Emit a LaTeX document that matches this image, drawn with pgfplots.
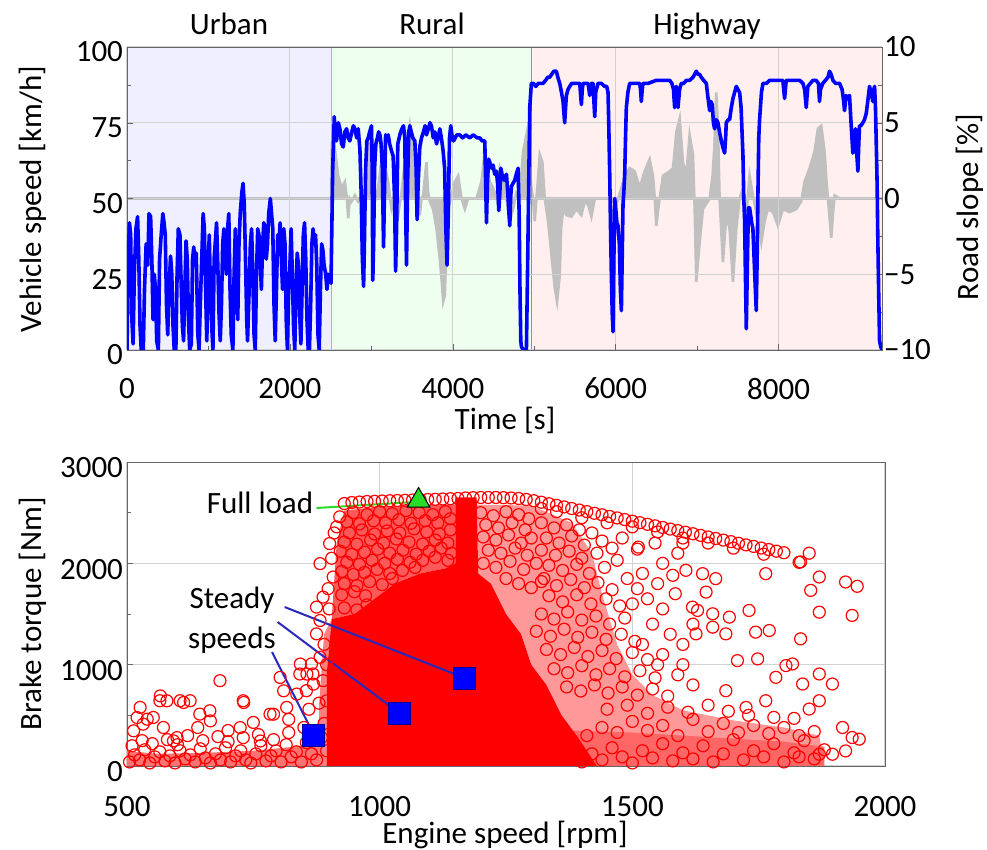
\documentclass[border=0pt]{standalone}
\usepackage{fontspec}
\setmainfont{Carlito}
\usepackage{pgfplots}
\pgfplotsset{compat=1.18}
\definecolor{urb}{RGB}{239,239,255}
\definecolor{rur}{RGB}{239,255,239}
\definecolor{hwy}{RGB}{255,240,239}
\definecolor{slopec}{RGB}{192,192,192}
\definecolor{leader}{RGB}{40,40,190}
\definecolor{flgreen}{RGB}{40,220,40}
\begin{document}
\begin{tikzpicture}[font=\fontsize{15.5}{18}\selectfont]
\useasboundingbox (-63.5pt,-250pt) rectangle (430pt,175pt);
\pgfplotsset{
  base/.style={scale only axis, font=\fontsize{15.5}{18}\selectfont,
    /pgf/number format/assume math mode=true, /pgf/number format/1000 sep={},
    axis line style={black!60}, tick style={black!60}, tick align=inside,
    major tick length=3pt, minor tick length=1.8pt,
    grid style={black!18, line width=0.5pt},
    xticklabel style={yshift=-10.5pt}},
}
% ---------- top: road slope (right axis), backgrounds ----------
\begin{axis}[base, at={(0,0)}, anchor=south west, width=377.5pt, height=151.5pt,
  xmin=0, xmax=9270, ymin=-10, ymax=10, axis on top,
  xtick={0,2000,4000,6000,8000}, minor x tick num=1, xtick pos=bottom,
  ytick={-10,-5,0,5,10}, yticklabels={−10,−5,0,5,10}, minor y tick num=1,
  ytick pos=right, yticklabel pos=right, yticklabel style={xshift=-2.5pt},
  grid=major]
\addplot[draw=none, fill=urb] coordinates {(0,-10) (0,10) (2515,10) (2515,-10)};
\addplot[draw=none, fill=rur] coordinates {(2515,-10) (2515,10) (4969,10) (4969,-10)};
\addplot[draw=none, fill=hwy] coordinates {(4969,-10) (4969,10) (9270,10) (9270,-10)};
\addplot[draw=slopec, fill=slopec, line width=1.3pt] coordinates {
(0,0) (2510,0) (2515,3.7) (2532,3.1) (2552,3.3) (2593,1.5) (2634,0.7) (2675,1.1) (2700,0) (2716,-1.3)
(2735,0) (2757,-0.2) (2798,0.2) (2839,-0.2) (2880,0) (2920,-0.2) (2949,0.9) (2974,3.7) (2990,2) (3002,1.1)
(3043,-0.2) (3084,0.7) (3125,2.6) (3166,2.2) (3207,1.1) (3230,0) (3248,-0.7) (3289,0) (3329,-1.1) (3370,0.4)
(3411,2.4) (3440,3.5) (3473,4.8) (3490,4) (3514,3.1) (3554,1.5) (3575,0) (3595,-1.1) (3615,0) (3636,0.2)
(3660,1.5) (3677,2.4) (3695,0.5) (3718,-0.2) (3759,-0.7) (3800,-2) (3841,-4) (3865,-5.5) (3882,-6.8) (3902,-6.4)
(3923,-2.9) (3945,-1) (3963,-0.2) (4025,1.1) (4066,1.5) (4107,0) (4148,-0.7) (4188,0) (4291,0) (4352,1.1)
(4380,2.5) (4393,3.5) (4414,2.2) (4454,1.1) (4495,0.7) (4536,0) (4560,1.2) (4577,2) (4618,1.3) (4659,0)
(4680,-0.8) (4700,-1.5) (4741,-0.7) (4781,0.4) (4822,0.2) (4845,1.8) (4863,3.1) (4904,4.2) (4925,2.4) (4945,2)
(4965,0.7) (4985,0) (5006,-1.5) (5027,0) (5050,1.5) (5068,2.9) (5100,2.4) (5129,0) (5170,-1.5) (5211,-3.7)
(5252,-5.9) (5280,-6.8) (5313,-5.1) (5330,-2) (5354,-0.7) (5395,-1.1) (5456,-1.2) (5518,-0.7) (5579,-1.1) (5620,-0.2)
(5661,-0.4) (5702,-1.2) (5743,0) (5927,0) (6008,-0.4) (6070,0.7) (6111,1.5) (6172,2) (6233,1.8) (6295,0.7)
(6356,1.8) (6417,2.6) (6458,1.5) (6480,0) (6499,-1.8) (6520,-0.8) (6540,0) (6581,1.5) (6663,1.8) (6704,2)
(6730,3.5) (6745,4.4) (6786,5.3) (6826,2.4) (6867,1.5) (6908,4.2) (6949,2.9) (6970,-0.7) (6990,-5.5) (7031,-2.9)
(7072,-0.7) (7154,0) (7190,1.5) (7215,3.7) (7235,7) (7256,4.8) (7276,0) (7300,-2.5) (7317,-4.2) (7358,-1.1)
(7399,-2) (7440,-5.5) (7481,-2) (7522,0) (7563,0.7) (7604,-1.1) (7644,1.5) (7685,0.2) (7726,-0.9) (7788,-2.9)
(7829,-1.5) (7869,-0.7) (7931,-0.9) (7992,-1.8) (8053,-0.7) (8135,-0.9) (8217,-0.7) (8278,-0.2) (8319,1.1) (8381,2)
(8442,3.1) (8483,4.6) (8524,4.8) (8565,3.1) (8590,1) (8606,0) (8625,-1.2) (8647,-2.6) (8668,-1) (8688,0.2)
(8749,0) (9270,0)} \closedcycle;
\addplot[draw={rgb,255:red,120;green,220;blue,120}, line width=0.6pt] coordinates {(2515,-10) (2515,10)};
\addplot[draw={rgb,255:red,230;green,110;blue,110}, line width=0.6pt] coordinates {(4969,-10) (4969,10)};
\end{axis}
% ---------- top: vehicle speed (left axis) ----------
\begin{axis}[base, at={(0,0)}, anchor=south west, width=377.5pt, height=151.5pt,
  xmin=0, xmax=9270, ymin=0, ymax=100, hide x axis, axis y line*=left,
  ytick={0,25,50,75,100}, minor y tick num=1, yticklabel style={xshift=1.5pt, yshift=-2.5pt}]
\addplot[blue, line width=1.8pt, line join=round] coordinates {
(0,0) (15,30) (30,42) (45,38) (60,10) (75,2) (90,25) (110,40) (130,44) (145,30)
(160,8) (175,0) (200,0) (215,20) (235,35) (255,28) (270,45) (290,44) (305,30) (320,10)
(335,25) (350,20) (365,3) (385,0) (400,30) (420,38) (440,45) (455,42) (470,38) (485,15)
(500,5) (515,20) (535,31) (550,25) (565,8) (580,0) (600,0) (615,25) (630,40) (650,38)
(665,22) (680,8) (695,3) (710,20) (725,36) (740,30) (755,10) (770,0) (790,2) (805,30)
(820,34) (835,28) (850,32) (870,5) (885,0) (900,15) (920,32) (935,45) (950,40) (965,20)
(980,3) (995,25) (1010,38) (1025,20) (1040,8) (1055,0) (1070,30) (1085,36) (1100,42) (1115,28)
(1130,12) (1145,3) (1160,15) (1175,35) (1190,40) (1205,30) (1220,25) (1235,40) (1250,45) (1265,20)
(1280,5) (1300,0) (1315,25) (1330,40) (1345,20) (1360,10) (1375,35) (1390,45) (1410,52) (1425,55)
(1440,48) (1455,30) (1470,10) (1480,3) (1500,20) (1515,35) (1530,40) (1545,25) (1560,5) (1575,0)
(1590,25) (1605,40) (1620,38) (1635,30) (1650,20) (1665,35) (1680,42) (1695,40) (1710,30) (1725,35)
(1740,45) (1760,50) (1775,45) (1790,40) (1805,15) (1820,3) (1835,20) (1850,38) (1865,35) (1880,42)
(1895,30) (1910,20) (1925,40) (1940,35) (1955,10) (1970,0) (1985,20) (2000,28) (2015,40) (2030,25)
(2045,8) (2060,0) (2075,20) (2090,32) (2105,28) (2120,12) (2135,2) (2150,20) (2165,38) (2180,42)
(2195,30) (2210,10) (2225,0) (2240,0) (2255,15) (2270,35) (2285,40) (2300,35) (2315,38) (2330,28)
(2345,5) (2360,0) (2375,20) (2390,35) (2405,33) (2420,28) (2440,25) (2455,20) (2470,25) (2490,24)
(2505,22) (2515,40) (2525,59) (2545,77) (2555,72) (2573,69) (2595,75) (2614,73) (2635,68) (2655,67)
(2675,72) (2696,73) (2716,70) (2736,69) (2760,72) (2780,74) (2798,73) (2820,70) (2839,73) (2860,66)
(2875,52) (2890,30) (2905,21) (2915,35) (2930,60) (2945,69) (2961,70) (2980,72) (3002,74) (3010,60)
(3018,23) (3028,35) (3040,60) (3055,68) (3075,70) (3090,72) (3105,71) (3120,68) (3135,60) (3150,34)
(3160,50) (3175,71) (3190,70) (3207,71) (3225,68) (3245,66) (3268,64) (3285,50) (3298,26) (3310,40)
(3325,68) (3350,71) (3375,73) (3395,74) (3411,70) (3422,45) (3432,28) (3445,55) (3460,72) (3473,74)
(3490,72) (3510,70) (3534,69) (3550,60) (3562,43) (3575,55) (3595,67) (3616,70) (3640,72) (3660,74)
(3677,71) (3700,73) (3720,75) (3738,74) (3760,70) (3780,72) (3800,68) (3820,70) (3841,73) (3860,70)
(3880,66) (3900,60) (3915,40) (3930,28) (3945,45) (3960,70) (3975,74) (3990,71) (4010,69) (4030,70)
(4050,71) (4086,71) (4120,70) (4160,71) (4209,70) (4250,71) (4300,70) (4332,70) (4360,69) (4393,69)
(4404,55) (4414,42) (4425,55) (4440,63) (4454,62) (4475,60) (4495,61) (4515,58) (4536,59) (4550,55)
(4565,46) (4578,52) (4590,60) (4605,58) (4630,56) (4659,58) (4675,52) (4690,45) (4700,41) (4710,50)
(4720,54) (4740,55) (4761,56) (4780,58) (4802,60) (4815,45) (4825,20) (4835,3) (4843,1) (4870,0)
(4904,0) (4920,30) (4935,60) (4945,80) (4965,88) (4990,88) (5020,87) (5050,88) (5080,88) (5109,88)
(5140,89) (5165,90) (5190,90) (5215,91) (5240,92) (5272,92) (5290,90) (5313,88) (5335,85) (5354,82)
(5365,78) (5374,75) (5385,80) (5395,84) (5415,86) (5436,87) (5460,88) (5477,88) (5520,88) (5559,88)
(5570,84) (5579,81) (5590,86) (5599,88) (5630,88) (5661,88) (5672,86) (5681,84) (5700,88) (5722,88)
(5733,82) (5743,77) (5755,85) (5783,88) (5824,88) (5865,87) (5890,87) (5906,85) (5915,75) (5927,58)
(5937,40) (5947,25) (5958,12) (5968,6) (5978,30) (5988,50) (6000,47) (6015,42) (6029,41) (6045,35)
(6058,20) (6070,13) (6080,30) (6090,48) (6100,52) (6111,58) (6121,70) (6131,80) (6150,85) (6172,88)
(6230,88) (6295,88) (6305,86) (6315,82) (6326,86) (6336,88) (6400,88) (6499,89) (6540,89) (6581,89)
(6620,89) (6663,89) (6690,88) (6710,86) (6724,80) (6735,86) (6745,87) (6755,84) (6765,80) (6785,86)
(6806,88) (6835,88) (6867,89) (6910,89) (6949,90) (6970,91) (6990,92) (7010,91) (7030,91) (7051,90)
(7080,89) (7113,88) (7130,84) (7154,79) (7170,82) (7186,81) (7200,75) (7215,73) (7235,76) (7256,75)
(7275,72) (7297,69) (7315,67) (7338,65) (7350,70) (7358,75) (7380,76) (7399,76) (7420,80) (7440,83)
(7460,85) (7481,87) (7500,86) (7522,85) (7540,80) (7563,64) (7573,50) (7583,43) (7593,25) (7604,7)
(7615,25) (7630,47) (7644,47) (7660,44) (7670,42) (7685,40) (7700,30) (7715,20) (7726,13) (7737,30)
(7747,52) (7757,70) (7767,76) (7790,85) (7808,88) (7850,88) (7890,89) (7950,89) (8000,89) (8053,89)
(8063,86) (8074,83) (8084,86) (8094,89) (8150,89) (8217,89) (8260,89) (8299,88) (8320,86) (8340,80)
(8350,84) (8360,87) (8390,88) (8422,89) (8460,89) (8490,88) (8503,82) (8515,86) (8544,88) (8575,89)
(8606,90) (8626,92) (8645,91) (8667,89) (8700,88) (8749,88) (8780,86) (8800,82) (8810,79) (8830,84)
(8850,83) (8871,84) (8890,75) (8912,65) (8930,70) (8945,73) (8960,65) (8974,59) (8985,68) (8994,74)
(9010,74) (9035,75) (9055,76) (9076,78) (9095,82) (9117,87) (9135,85) (9158,82) (9170,86) (9179,87)
(9190,80) (9199,69) (9210,55) (9219,36) (9230,18) (9240,3) (9255,1) (9270,0)};
\end{axis}
% ---------- bottom: engine operating points ----------
\begin{axis}[base, at={(0,-208pt)}, anchor=south west, width=379pt, height=152pt,
  xmin=500, xmax=2000, ymin=0, ymax=3000,
  xtick={500,1000,1500,2000}, ytick={0,1000,2000,3000}, minor x tick num=1, minor y tick num=1,
  xtick pos=bottom, ytick pos=left, grid=major, xticklabel style={yshift=-1pt},
  yticklabel style={xshift=1.5pt, yshift=-3pt}]
% density zones
\addplot[draw=none, fill=red!40] coordinates {(1192,2580) (1300,2570) (1380,2400) (1420,2100) (1440,1700) (1470,1200) (1500,900) (1540,700) (1600,550) (1700,450) (1800,380) (1870,300) (1880,0) (1430,0) (1410,150) (1390,300) (1360,500) (1330,800) (1300,1000) (1280,1300) (1250,1500) (1220,1800) (1195,1900)};
\addplot[draw=none, fill=red!60] coordinates {(1380,0) (1380,350) (1500,330) (1600,300) (1700,270) (1800,240) (1880,190) (1880,0)};
\addplot[draw=none, fill=red!65] coordinates {(905,1450) (915,2200) (930,2520) (1000,2560) (1150,2580) (1150,2000) (1130,1950) (1080,1900) (1030,1800) (990,1650) (950,1500)};
\addplot[draw=none, fill=red!50] coordinates {(880,0) (880,600) (890,1300) (905,1450) (895,900) (895,0)};
\addplot[draw=none, fill=red!55] coordinates {(500,0) (500,150) (560,120) (650,130) (750,150) (850,200) (880,260) (880,0)};
% solid core
\addplot[draw=none, fill=red] coordinates {(895,0) (895,900) (905,1450) (950,1500) (990,1650) (1030,1800) (1080,1900) (1130,1950) (1150,2000) (1150,2650) (1192,2650) (1195,1900) (1220,1800) (1250,1500) (1280,1300) (1300,1000) (1330,800) (1360,500) (1390,300) (1410,150) (1430,0)};
% operating points
\addplot[only marks, mark=o, mark size=3pt, red, mark options={line width=0.6pt}] coordinates {
(505,40)(515,110)(525,60)(535,160)(545,30)(555,90)(565,140)(575,50)(585,100)(595,30)(605,150)(615,70)(625,110)(635,40)(645,170)(655,80)(665,30)(675,120)(685,60)(695,180)(705,40)(715,100)(725,150)(735,60)(745,30)(755,120)(765,200)(775,50)(785,100)(795,150)(805,40)(815,210)(825,90)(835,140)(845,40)(855,230)(865,120)(875,60)(885,280)(895,150)
(510,200)(530,250)(550,220)(580,260)(600,210)(620,300)(650,250)(680,290)(700,240)(730,280)(760,310)(790,260)(820,330)(850,380)(870,350)(890,420)
(513,347)(526,578)(532,413)(552,479)(565,644)(572,380)(592,248)(605,644)(625,644)(644,512)(664,545)(684,842)(730,644)(724,379)(783,512)(816,578)(836,710)(855,743)(842,908)(865,1007)(882,1073)(875,1304)(882,1436)(875,1568)(888,1667)(882,1997)(901,2195)(908,1865)(915,2360)(921,2459)(868,908)(888,842)(520,478)(540,462)(599,280)(764,247)(790,511)(803,874)(810,742)(843,1006)(856,907)(869,808)(895,643)(612,627)(731,627)(665,445)(566,692)(579,643)(750,430)(700,350)(640,380)(820,460)(860,560)(880,620)(890,1200)(895,1000)(898,1750)(905,2050)(910,2300)(900,1550)
(930,1560)(955,1540)(975,1590)(925,1690)(950,1720)(972,1680)(930,1800)(955,1780)(980,1820)(1005,1790)(1025,1850)
(925,1920)(948,1890)(970,1910)(995,1940)(1020,1900)(1045,1930)(1070,1960)
(935,2010)(960,1990)(985,2030)(1010,2000)(1035,2040)(1060,2010)(1085,2030)(1110,2060)(1135,2030)
(922,2120)(945,2090)(970,2110)(996,2140)(1020,2100)(1046,2130)(1072,2090)(1098,2120)(1122,2150)(1142,2100)
(930,2210)(955,2190)(982,2230)(1008,2200)(1033,2240)(1058,2210)(1085,2190)(1110,2230)(1135,2200)
(940,2300)(965,2330)(990,2290)(1015,2320)(1040,2300)(1068,2340)(1093,2310)(1118,2290)(1140,2330)
(935,2410)(960,2390)(988,2420)(1012,2400)(1038,2430)(1062,2395)(1090,2420)(1115,2400)(1140,2440)
(948,2500)(975,2480)(1000,2510)(1025,2490)(1052,2520)(1078,2500)(1105,2480)(1130,2510)
(1200,2500)(1225,2470)(1250,2510)(1275,2480)(1295,2440)(1210,2380)(1235,2350)(1262,2400)(1288,2330)(1205,2260)(1230,2230)(1255,2280)(1280,2200)(1300,2250)(1215,2130)(1240,2100)(1268,2150)(1292,2080)(1205,2000)(1230,1960)(1258,2020)(1285,1940)(1310,2000)(1250,1850)(1275,1800)(1300,1760)(1325,1850)
(1320,2400)(1345,2350)(1370,2380)(1395,2330)(1420,2300)(1330,2250)(1355,2200)(1380,2270)(1405,2180)(1440,2220)(1320,2130)(1348,2080)(1375,2120)(1400,2050)(1430,2100)(1460,2150)(1335,1980)(1362,1930)(1390,1990)(1415,1900)(1445,1960)(1470,2030)(1320,1820)(1350,1780)(1378,1840)(1405,1760)(1432,1810)(1460,1740)(1490,1850)(1335,1680)(1362,1620)(1390,1690)(1418,1600)(1448,1650)(1475,1580)(1320,1500)(1345,1450)(1372,1520)(1400,1440)(1428,1480)(1455,1400)(1485,1460)(1310,1330)(1338,1280)(1365,1350)(1392,1270)(1420,1320)(1448,1250)(1478,1300)(1505,1230)(1330,1150)(1358,1100)(1385,1170)(1412,1080)(1440,1140)(1468,1060)(1500,1120)(1530,1050)(1345,960)(1372,920)(1400,990)(1428,900)(1455,960)(1485,880)(1515,940)(1545,870)(1370,780)(1398,740)(1425,800)(1452,720)(1480,780)(1510,700)(1540,760)(1570,690)
(1400,40)(1420,120)(1440,60)(1460,180)(1480,90)(1500,30)(1520,150)(1540,80)(1560,220)(1580,50)(1600,130)(1620,70)(1640,200)(1660,40)(1680,120)(1700,260)(1720,60)(1740,150)(1760,90)(1780,220)(1800,40)(1820,130)(1840,250)(1860,70)(1880,160)(1410,300)(1440,380)(1470,330)(1500,440)(1530,350)(1560,400)(1590,300)(1620,460)(1650,340)(1680,420)(1710,330)(1740,400)(1770,320)(1800,380)(1830,300)(1860,340)(1450,560)(1490,600)(1530,520)(1570,580)(1610,530)(1650,600)(1690,540)(1730,500)(1780,480)(1820,470)
(1606,1931)(1580,1882)(1639,1898)(1665,1849)(1629,1535)(1659,1502)(1692,1469)(1731,1535)(1744,1321)(1771,1337)(1685,1304)(1659,1370)(1626,1304)(1708,1040)(1748,1057)(1784,875)(1804,991)(1817,1007)(1685,743)(1725,578)(1764,644)(1837,809)(1870,908)(1896,809)(1850,562)(1870,644)(1916,380)(1935,281)(1949,265)(1922,149)(1896,116)(1870,116)(1830,90)(1764,1898)(1833,2014)(1853,1733)(1870,1518)(1935,1486)(1922,1816)(1945,1773)(1833,1255)(1870,1865)(1619,1568)(1646,1716)(1510,2140)(1512,2160)
(1520,1900)(1550,1800)(1530,1650)(1560,1550)(1585,1700)(1540,1400)(1575,1300)(1520,1200)(1560,1100)(1600,1000)(1590,900)(1620,800)(1550,1000)(1600,1200)(1620,1400)(1500,1600)(1510,1750)(1560,2000)(1590,2100)(1545,2200)(1480,2250)(1600,2200)
(930,2590)(945,2600)(960,2605)(975,2610)(990,2612)(1005,2615)(1020,2618)(1035,2620)(1050,2622)(1065,2625)(1080,2628)(1095,2630)(1110,2632)(1125,2635)(1140,2638)(1155,2640)(1170,2645)(1185,2648)(1200,2650)(1215,2650)(1230,2650)(1245,2648)(1260,2645)(1275,2640)(1290,2630)(1305,2618)(1320,2603)(1335,2588)(1350,2572)(1365,2557)(1380,2541)(1395,2526)(1410,2510)(1425,2494)(1440,2479)(1455,2463)(1470,2448)(1485,2432)(1500,2416)(1515,2401)(1530,2385)(1545,2370)(1560,2354)(1575,2338)(1590,2323)(1605,2307)(1620,2292)(1635,2276)(1650,2260)(1665,2245)(1680,2229)(1695,2214)(1710,2198)(1725,2182)(1740,2167)(1755,2151)(1770,2136)(1785,2120)(1800,2105)
(1320,2540)(1350,2510)(1400,2450)(1450,2400)(1500,2360)(1550,2310)(1600,2250)(1650,2200)(1700,2150)(1760,2090)(1830,2010)(1850,2100)};
% annotations
\addplot[flgreen, line width=1pt] coordinates {(875,2546) (1068,2605)};
\addplot[leader, line width=1pt] coordinates {(812,1569) (1168,868)};
\addplot[leader, line width=1pt] coordinates {(798,1421) (1039,523)};
\addplot[leader, line width=1pt] coordinates {(787,1125) (870,306)};
\addplot[only marks, mark=square*, mark size=5.5pt, mark options={fill=blue, draw=blue!60!black, line width=0.5pt}] coordinates {(870,300) (1039,520) (1168,860)};
\addplot[only marks, mark=triangle*, mark size=6.5pt, mark options={fill=flgreen, draw=black, line width=0.5pt}] coordinates {(1077,2620)};
\end{axis}
% ---------- text ----------
\node[anchor=base] at (51pt,157.9pt) {Urban};
\node[anchor=base] at (152.5pt,157.9pt) {Rural};
\node[anchor=base] at (290pt,157.9pt) {Highway};
\node[rotate=90] at (-47pt,75.5pt) {Vehicle speed [km/h]};
\node[rotate=90] at (421.5pt,71.5pt) {Road slope [\%]};
\node at (189pt,-35pt) {Time [s]};
\node[rotate=90] at (-47pt,-132pt) {Brake torque [Nm]};
\node at (189pt,-242.7pt) {Engine speed [rpm]};
\node at (66.5pt,-76.5pt) {Full load};
\node[align=center, font=\fontsize{15.5}{20}\selectfont] at (52.5pt,-135pt) {Steady\\speeds};
\end{tikzpicture}
\end{document}
